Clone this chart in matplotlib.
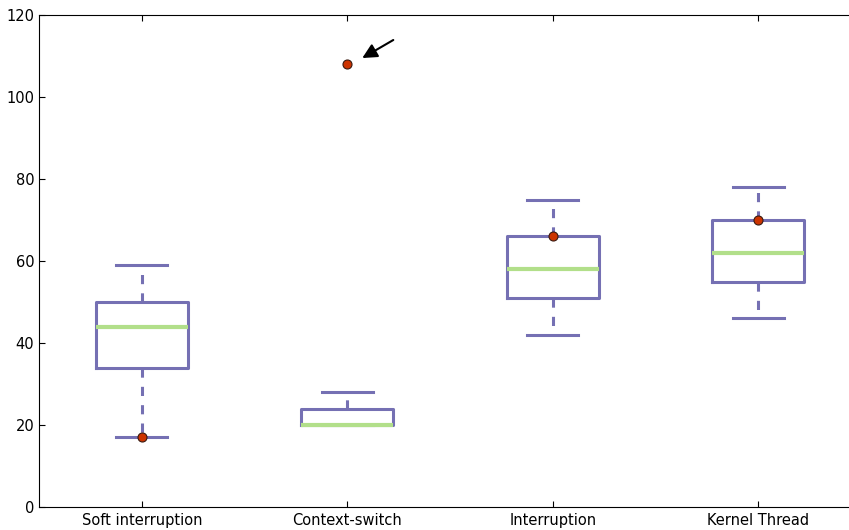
import matplotlib
matplotlib.use("Agg")
import matplotlib.pyplot as plt

categories = ["Soft interruption", "Context-switch", "Interruption", "Kernel Thread"]
whisker_low = [17, 20, 42, 46]
q1 = [34, 20, 51, 55]
medians = [44, 20, 58, 62]
q3 = [50, 24, 66, 70]
whisker_high = [59, 28, 75, 78]
highlight = [17, 108, 66, 70]
yticks = [0, 20, 40, 60, 80, 100, 120]

fig = plt.figure(figsize=(8.49, 5.30), dpi=100)
ax = fig.add_axes([39 / 849, 1 - 507 / 530, 822 / 849, 492 / 530])

stats = []
for i, c in enumerate(categories):
    stats.append(dict(label=c, whislo=whisker_low[i], q1=q1[i], med=medians[i],
                      q3=q3[i], whishi=whisker_high[i], fliers=[]))

purple = "#7570b3"
green = "#b2df8a"
positions = list(range(1, len(categories) + 1))
ax.bxp(stats, positions=positions, widths=0.45, capwidths=0.25, showfliers=False,
       boxprops=dict(color=purple, linewidth=2.2),
       whiskerprops=dict(color=purple, linewidth=2.2, linestyle=(0, (3, 3))),
       capprops=dict(color=purple, linewidth=2.2),
       medianprops=dict(color=green, linewidth=3))

ax.plot(positions, highlight, linestyle="none", marker="o", markersize=6.5,
        markerfacecolor="#cc3300", markeredgecolor="#3a1a10", markeredgewidth=0.8, zorder=5)

ax.annotate("", xy=(2.073, 109.5), xytext=(2.224, 113.9),
            arrowprops=dict(arrowstyle="-|>", color="black", lw=1.5, mutation_scale=22,
                            shrinkA=0, shrinkB=0))

ax.set_xlim(0.5, 4.5)
ax.set_ylim(0, 120)
ax.set_yticks(yticks)
ax.set_xticks(positions)
ax.set_xticklabels(categories)
ax.spines["right"].set_visible(False)
ax.tick_params(direction="in", top=True, right=False, length=4, labelsize=10.5)
ax.tick_params(axis="x", pad=4.5)

fig.savefig("out.png", dpi=100)
